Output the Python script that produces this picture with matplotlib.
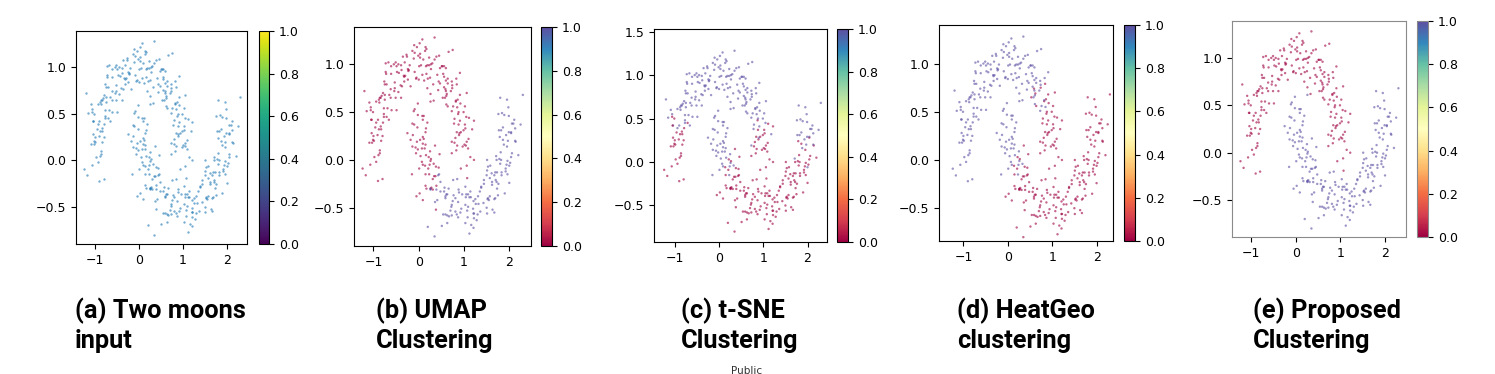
import matplotlib
matplotlib.use("Agg")
import matplotlib.pyplot as plt
import numpy as np

# Two moons points, grouped by the part of the moon they sit on
seg_x = {
    "u_end": [1.06, 1.14, 0.97, 0.93, 1.01, 1.10, 0.83, 1.03, 0.81, 0.93, 0.88, 1.09, 1.06, 0.85, 0.84,
              1.02, 1.11, 0.99, 1.04, 0.89, 1.22, 0.79, 1.07, 0.87, 1.22, 0.73],
    "u_bend": [0.79, 0.88, 1.05, 0.92, 0.90, 0.78, 0.86, 0.91, 0.99, 0.82, 0.62, 0.74, 0.91, 0.64, 0.84,
               1.06, 0.73, 1.18, 0.53, 1.02, 0.59],
    "u_mid": [0.61, 0.60, 0.64, 0.85, 0.82, 0.76, 0.61, 0.74, 0.83, 0.71, 0.60, 0.58, 0.47, 0.56, 0.73,
              0.64, 0.47, 0.43, 0.51, 0.56, 0.25, 0.45, 0.23, 0.35, 0.52, 0.44, 0.41, 0.20, 0.19, 0.23,
              0.39, 0.27, 0.32, 0.17, 0.30, 0.10, 0.27, 0.14, 0.12, 0.01, 0.03, 0.08, 0.16, -0.01, -0.05,
              -0.14, 0.03, -0.24, -0.04, -0.26, -0.31, -0.27, -0.06, -0.09, -0.30, -0.33, -0.20, -0.11, -0.23, -0.18,
              -0.37, -0.48, -0.39, -0.22, -0.35, -0.49, -0.53, -0.45, -0.40, -0.32, -0.51, -0.73, -0.61, -0.44, -0.71,
              -0.54, -0.75, -0.76, -0.72, -0.51, -0.65, -0.60, -0.75, -0.62, -0.53, -0.62, -0.75, -0.77, -0.88, -0.79,
              -0.77, -0.69, -0.86, -0.90, -0.82, -0.77, -1.04, -0.84, -1.06, -0.94, 0.15, 0.35, 0.75, -0.10, -1.20,
              0.73, 0.56, 0.91, 0.26, 0.66, 0.33, 0.60, 0.05, 0.54, -0.09, 0.19, 0.02, 0.17, -0.32, 0.08,
              -0.45, 0.00, -0.55, -0.24, -0.67, -0.39, -0.73, -0.38, -0.87, -0.61, -0.94, -0.49, -1.15, -0.66, -1.09],
    "u_tail": [-1.01, -0.80, -0.83, -1.04, -1.05, -0.88, -0.79, -0.91, -0.86, -1.01, -1.09, -1.00, -0.83, -0.96, -0.98,
               -1.07, -0.99, -0.94, -0.86, -1.03, -0.90, -0.80, -0.89, -1.06, -0.71, -1.24, -0.84, -1.17],
    "l_start": [-0.11, -0.02, 0.09, -0.14, 0.11, 0.08, -0.04, 0.19, 0.09, 0.15, 0.15, -0.10, -0.03, -0.07, 0.07,
                0.09, 0.16, 0.03, -0.13, -0.02, 0.09, 0.16, 0.11, 0.25, -0.06, 0.01, 0.26, 0.04, 0.13, 0.24,
                -0.15, -0.18, 0.26, -0.25, -0.09, 0.07, -0.02, 0.23, -0.14, 0.33],
    "l_bend": [0.28, 0.34, 0.27, 0.15, 0.38, 0.17, 0.31, 0.39, 0.14, 0.21, 0.15, 0.26, 0.37, 0.44, 0.31,
               -0.05, 0.36, 0.02, 0.46, 0.09, 0.22, 0.38],
    "l_mid": [0.57, 0.26, 0.41, 0.48, 0.43, 0.48, 0.59, 0.36, 0.61, 0.39, 0.54, 0.77, 0.67, 0.73, 0.66,
              0.56, 0.63, 0.59, 0.73, 0.81, 0.88, 0.75, 0.59, 0.70, 0.81, 0.94, 0.89, 1.03, 0.72, 0.87,
              1.09, 0.87, 0.96, 1.07, 0.84, 1.22, 1.15, 1.03, 1.26, 1.16, 1.22, 1.30, 1.05, 1.12, 1.08,
              1.20, 1.31, 1.38, 1.25, 1.09, 1.21, 1.36, 1.43, 1.38, 1.52, 1.55, 1.32, 1.57, 1.35, 1.44,
              1.73, 1.63, 1.69, 1.62, 1.50, 1.57, 1.53, 1.67, 1.75, 1.50, 1.67, 1.51, 1.62, 1.73, 1.80,
              1.78, 1.92, 1.61, 1.76, 1.83, 1.72, 1.81, 1.92, 1.69, 1.94, 1.95, 1.83, 2.06, 1.96, 2.02,
              2.04, 1.79, 1.86, 1.82, 1.96, 0.35, 0.20, 2.20,
              0.45, 0.63, 0.26, 0.92, 0.85, 0.51, 1.14, 0.63, 0.76, 1.12, 1.03, 1.21, 1.04, 1.51, 1.44,
              1.28, 1.72, 1.21, 1.51, 1.67, 1.58, 1.90, 1.53, 2.00, 2.04, 1.70, 2.14],
    "l_tip": [1.99, 2.06, 1.93, 1.77, 1.88, 1.97, 2.04, 1.99, 2.13, 1.82, 1.86, 2.11, 1.89, 1.98, 2.09,
              2.30, 2.25, 1.80, 1.71, 1.84, 2.00, 1.95, 2.13, 1.76],
}
seg_y = {
    "u_end": [-0.06, 0.03, 0.14, -0.09, 0.16, 0.22, 0.10, 0.33, 0.23, 0.29, 0.37, 0.12, 0.19, 0.15, 0.29,
              0.37, 0.44, 0.31, 0.15, 0.26, 0.00, 0.18, -0.19, 0.48, 0.41, 0.07],
    "u_bend": [0.43, 0.50, 0.45, 0.59, 0.28, 0.38, 0.63, 0.41, 0.50, 0.61, 0.69, 0.75, 0.68, 0.56, 0.79,
               0.70, 0.19, 0.32, 0.65, 0.56, 0.74],
    "u_mid": [0.58, 0.72, 0.80, 0.55, 0.62, 0.56, 0.67, 0.78, 0.85, 0.72, 0.96, 0.65, 0.80, 0.87, 0.82,
              0.85, 0.96, 0.73, 0.98, 0.76, 0.86, 1.09, 0.99, 1.05, 0.98, 0.82, 0.89, 0.85, 0.99, 1.07,
              1.08, 0.95, 0.79, 0.90, 1.01, 1.05, 1.00, 1.14, 0.83, 0.98, 1.11, 0.89, 0.98, 1.09, 0.86,
              1.14, 1.07, 0.95, 1.18, 1.08, 1.02, 1.10, 0.85, 0.92, 0.88, 0.88, 0.99, 1.06, 0.93, 0.77,
              0.77, 0.92, 0.99, 0.94, 1.08, 0.98, 0.75, 1.00, 0.78, 0.87, 1.02, 0.92, 0.98, 0.91, 0.79,
              0.72, 0.68, 0.82, 0.90, 0.65, 0.68, 0.52, 0.63, 0.74, 0.81, 0.65, 0.79, 0.48, 0.63, 0.70,
              0.45, 0.54, 0.65, 0.42, 0.67, 0.54, 0.42, 0.65, 0.55, 0.61, 1.18, 1.28, 1.15, 1.20, 0.72,
              0.51, 0.98, 0.91, 0.69, 1.13, 0.62, 0.83, 0.99, 0.90, 1.12, 0.75, 1.22, 1.16, 0.82, 1.26,
              0.71, 0.84, 1.00, 0.84, 1.02, 0.65, 1.01, 0.94, 0.60, 0.90, 0.39, 0.52, 0.51, 0.42, 0.60],
    "u_tail": [0.50, 0.25, 0.32, 0.28, 0.42, 0.32, 0.39, 0.26, 0.10, 0.21, 0.18, 0.25, 0.20, 0.34, 0.03,
               -0.05, 0.20, -0.02, 0.07, 0.18, -0.22, -0.20, 0.05, 0.52, 0.45, -0.09, 0.35, -0.16],
    "l_start": [0.51, 0.59, 0.42, 0.38, 0.46, 0.46, 0.19, 0.39, 0.17, 0.29, 0.16, 0.37, 0.34, 0.13, 0.12,
                0.24, 0.33, 0.21, 0.26, 0.11, -0.05, 0.05, 0.22, 0.09, 0.07, -0.09, -0.01, 0.04, 0.12, -0.05,
                -0.15, 0.21, 0.61, 0.28, 0.53, -0.02, 0.47, -0.15, 0.14, -0.04],
    "l_bend": [-0.29, -0.17, 0.01, -0.27, -0.07, -0.30, -0.31, -0.27, -0.06, -0.09, -0.15, -0.30, -0.17, -0.08, -0.20,
               -0.38, 0.15, -0.35, 0.06, -0.42, 0.03, -0.52],
    "l_mid": [-0.29, -0.31, -0.42, -0.33, -0.16, -0.23, -0.40, -0.44, -0.36, -0.31, -0.57, -0.37, -0.59, -0.47, -0.30,
              -0.33, -0.36, -0.57, -0.58, -0.54, -0.31, -0.43, -0.38, -0.53, -0.40, -0.51, -0.34, -0.47, -0.49, -0.60,
              -0.49, -0.44, -0.36, -0.53, -0.57, -0.56, -0.39, -0.66, -0.46, -0.68, -0.61, -0.57, -0.36, -0.39, -0.60,
              -0.51, -0.38, -0.29, -0.41, -0.36, -0.43, -0.54, -0.45, -0.28, -0.41, -0.42, -0.46, -0.38, -0.33, -0.25,
              -0.30, -0.52, -0.40, -0.23, -0.50, -0.19, -0.40, -0.41, -0.37, -0.16, -0.16, -0.11, -0.26, -0.13, -0.04,
              0.01, -0.12, -0.14, -0.25, -0.16, 0.00, 0.08, -0.09, -0.13, -0.05, 0.14, -0.13, 0.07, -0.15, -0.03,
              0.03, 0.24, 0.21, 0.00, -0.01, -0.80, -0.70, 0.05,
              -0.15, -0.58, -0.30, -0.55, -0.20, -0.69, -0.33, -0.66, -0.21, -0.77, -0.28, -0.71, -0.39, -0.56, -0.21,
              -0.63, -0.23, -0.56, 0.00, -0.55, -0.06, -0.35, -0.07, -0.24, 0.28, -0.21, 0.19],
    "l_tip": [0.29, 0.38, 0.26, 0.31, 0.16, 0.20, 0.29, 0.46, 0.33, 0.31, 0.34, 0.42, 0.47, 0.55, 0.38,
              0.68, 0.37, 0.65, 0.04, 0.49, -0.06, 0.63, 0.20, 0.48],
}
seg_order = ["u_end", "u_bend", "u_mid", "u_tail", "l_start", "l_bend", "l_mid", "l_tip"]

# cluster value (0 = red, 1 = purple on Spectral) given to each part, per panel
labels_b = {"u_end": 0, "u_bend": 0, "u_mid": 0, "u_tail": 0, "l_start": 0, "l_bend": 0, "l_mid": 1, "l_tip": 1}
labels_c = {"u_end": 0, "u_bend": 1, "u_mid": 1, "u_tail": 0, "l_start": 1, "l_bend": 0, "l_mid": 0, "l_tip": 1}
labels_d = {"u_end": 0, "u_bend": 0, "u_mid": 1, "u_tail": 1, "l_start": 1, "l_bend": 0, "l_mid": 0, "l_tip": 0}
labels_e = {"u_end": 0, "u_bend": 0, "u_mid": 0, "u_tail": 0, "l_start": 1, "l_bend": 1, "l_mid": 1, "l_tip": 1}

captions = [
    ["(a) Two moons", "input"],
    ["(b) UMAP", "Clustering"],
    ["(c) t-SNE", "Clustering"],
    ["(d) HeatGeo", "clustering"],
    ["(e) Proposed", "Clustering"],
]

W, H = 1495, 374
fig = plt.figure(figsize=(W / 100, H / 100), dpi=100)


def rect(x0, y0, x1, y1):
    return [x0 / W, (H - y1) / H, (x1 - x0) / W, (y1 - y0) / H]


# pixel boxes of plot and colour bar for each panel
ax_boxes = [(76, 31, 247, 244), (354, 27, 531, 246), (654, 29, 827, 242),
            (939, 25, 1113, 241), (1232, 21, 1406, 237)]
cb_boxes = [(259, 31, 269, 244), (541, 27, 552, 246), (837, 29, 848, 242),
            (1124, 25, 1135, 241), (1417, 21, 1428, 237)]
xlims = [(-1.43, 2.46), (-1.43, 2.48), (-1.47, 2.44), (-1.55, 2.37), (-1.43, 2.47)]
ylims = [(-0.90, 1.39), (-0.90, 1.39), (-0.92, 1.53), (-0.84, 1.40), (-0.89, 1.39)]
cmaps = ["viridis", "Spectral", "Spectral", "Spectral", "Spectral"]
panel_labels = [None, labels_b, labels_c, labels_d, labels_e]
caption_x = [75, 376, 681, 957, 1253]

X = np.concatenate([seg_x[s] for s in seg_order])
Y = np.concatenate([seg_y[s] for s in seg_order])

for i in range(5):
    ax = fig.add_axes(rect(*ax_boxes[i]))
    cax = fig.add_axes(rect(*cb_boxes[i]))
    if panel_labels[i] is None:
        ax.scatter(X, Y, s=3, color="C0", alpha=0.6, linewidths=0)
    else:
        c = np.concatenate([[panel_labels[i][s]] * len(seg_x[s]) for s in seg_order])
        ax.scatter(X, Y, s=3, c=c, cmap="Spectral", vmin=0, vmax=1, alpha=0.6, linewidths=0)
    ax.set_xlim(*xlims[i])
    ax.set_ylim(*ylims[i])
    ax.tick_params(labelsize=9)
    sm = plt.cm.ScalarMappable(cmap=cmaps[i], norm=plt.Normalize(0, 1))
    cb = fig.colorbar(sm, cax=cax)
    cb.set_ticks([0, 0.2, 0.4, 0.6, 0.8, 1.0])
    cb.ax.tick_params(labelsize=9)
    if i == 4:
        for sp in list(ax.spines.values()) + list(cax.spines.values()):
            sp.set_color("#8a8a8a")
    fig.text(caption_x[i] / W, 1 - 318 / H, captions[i][0], fontsize=18.3, fontweight="bold",
             family=["Roboto", "DejaVu Sans"], va="baseline", ha="left")
    fig.text(caption_x[i] / W, 1 - 348 / H, captions[i][1], fontsize=18.3, fontweight="bold",
             family=["Roboto", "DejaVu Sans"], va="baseline", ha="left")

fig.text(747 / W, 1 - 371 / H, "Public", fontsize=7.5, color="#333333", ha="center", va="center")

fig.savefig("out.png", dpi=100)
